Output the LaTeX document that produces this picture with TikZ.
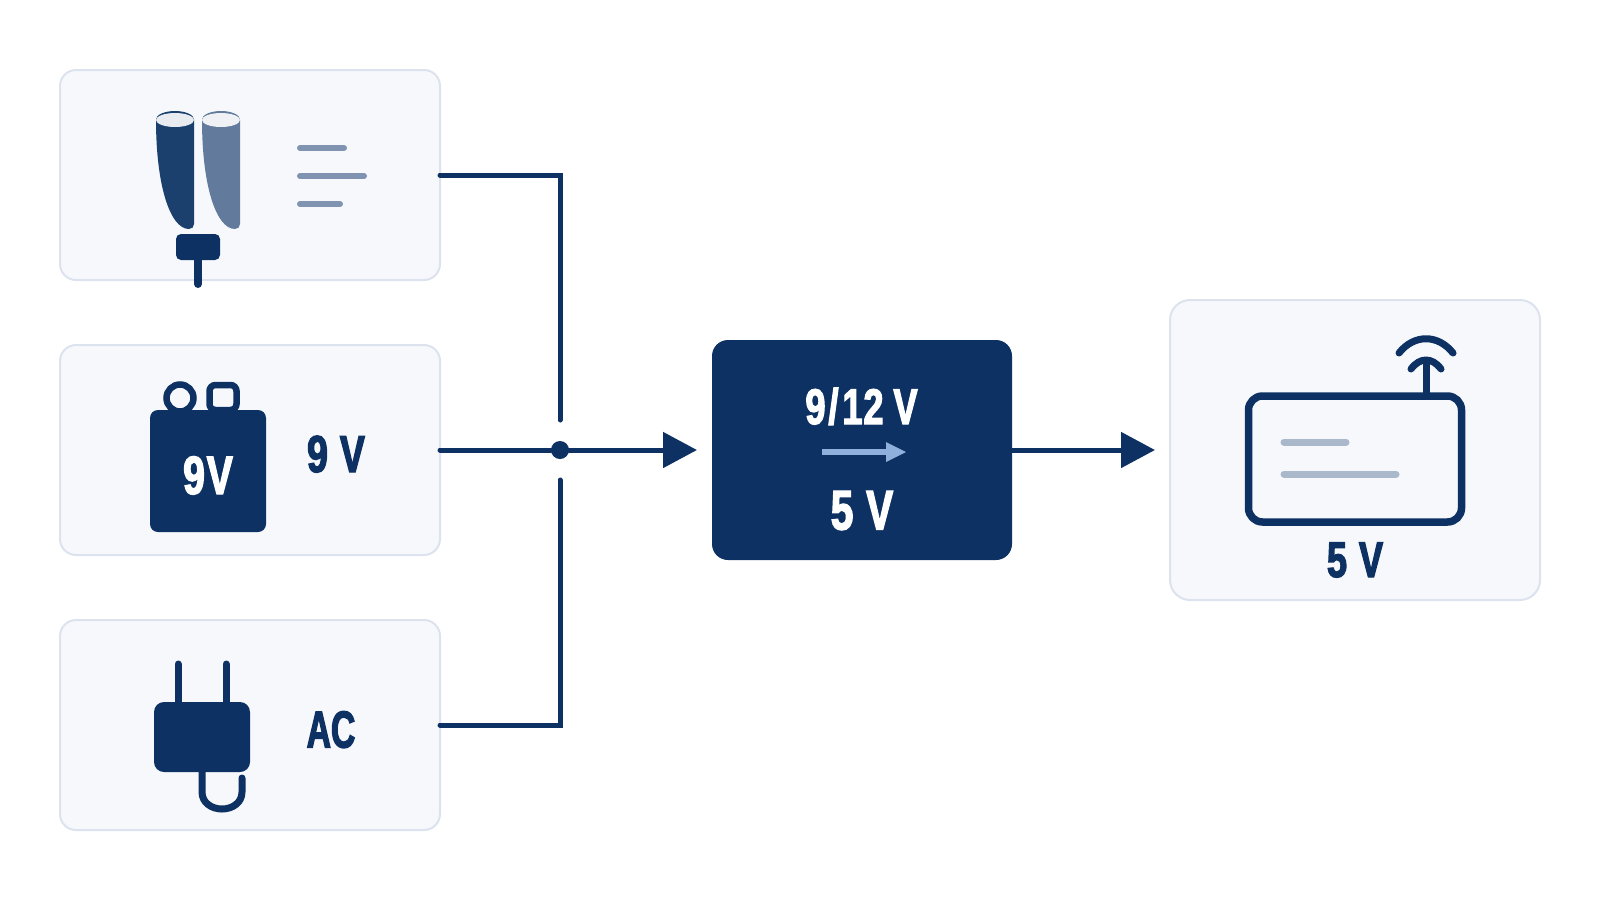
\documentclass[tikz,border=0pt]{standalone}
\usepackage{fontspec}
\usetikzlibrary{arrows.meta}
\newfontfamily\condfont[FakeStretch=0.72,FakeBold=2.5]{Liberation Sans}
\definecolor{navy}{HTML}{0D3163}
\definecolor{cardfill}{HTML}{F6F8FC}
\definecolor{cardline}{HTML}{DCE3EE}
\definecolor{battA}{HTML}{1C406D}
\definecolor{battB}{HTML}{627A9B}
\definecolor{greyA}{HTML}{8094B1}
\definecolor{greyB}{HTML}{AAB8CB}
\definecolor{paleblue}{HTML}{8FB0DC}
\tikzset{
  card/.style={draw=cardline,fill=cardfill,line width=2pt,rounded corners=16pt,inner sep=0pt,outer sep=0pt,minimum width=380pt,minimum height=210pt},
  wire/.style={draw=navy,line width=5pt,line cap=round},
  arrowwire/.style={wire,-{Triangle[length=34pt,width=35pt]},shorten >=15pt},
  solidnavy/.style={fill=navy,draw=none},
  iconline/.style={draw=navy,line cap=round,line join=round},
  label/.style={inner sep=0pt,anchor=base,text=navy,font=\condfont\bfseries},
  whitelabel/.style={label,text=white},
  bar/.style={line width=6pt,line cap=round},
}
\newcommand{\fs}[1]{\fontsize{#1}{#1}\selectfont}
\begin{document}
\begin{tikzpicture}[x=1pt,y=-1pt]
\useasboundingbox (0,0) rectangle (1600,900);
% cards
\node[card] (cardbatt) at (250,175) {};
\node[card] (cardnine) at (250,450) {};
\node[card] (cardac) at (250,725) {};
\node[card,rounded corners=20pt,minimum width=370pt,minimum height=300pt] (carddev) at (1355,450) {};
\node[fill=navy,rounded corners=16pt,inner sep=0pt,outer sep=0pt,minimum width=300pt,minimum height=220pt] (conv) at (862,450) {};
% connectors
\node[circle,fill=navy,inner sep=0pt,outer sep=0pt,minimum size=18pt] (junction) at (560,450) {};
\coordinate (gaptop) at (560,420);
\coordinate (gapbottom) at (560,480);
\draw[wire,line join=miter] (cardbatt.east) -| (gaptop);
\draw[wire,line join=miter] (cardac.east) -| (gapbottom);
\draw[wire] (cardnine.east) -- (junction);
\draw[arrowwire] (junction) -- (conv);
\draw[arrowwire] (conv) -- (carddev);
% batteries
\fill[battA] (156,120) .. controls (156,185) and (170,229) .. (189,229) .. controls (192,229) and (194,227) .. (194,224) -- (194,120) -- cycle;
\fill[battA] (175,119.5) ellipse [x radius=19,y radius=8.5];
\fill[fill=white,fill opacity=.9] (175,120) ellipse [x radius=19,y radius=7];
\fill[battB] (202,120) .. controls (202,185) and (216,229) .. (235,229) .. controls (238,229) and (240,227) .. (240,224) -- (240,120) -- cycle;
\fill[battB] (221,119.5) ellipse [x radius=19,y radius=8.5];
\fill[fill=white,fill opacity=.9] (221,120) ellipse [x radius=19,y radius=7];
\draw[iconline,line width=8pt] (198,255) -- (198,284);
\fill[solidnavy,rounded corners=5pt] (176,234) rectangle (220,260);
\draw[greyA,bar] (300,148) -- (344,148);
\draw[greyA,bar] (300,176) -- (364,176);
\draw[greyA,bar] (300,204) -- (340,204);
% nine volt
\draw[navy,line width=6.5pt] (180,398) circle [radius=13.5];
\draw[navy,line width=6.5pt,rounded corners=6pt] (209.5,385) rectangle (236.5,410);
\fill[solidnavy,rounded corners=8pt] (150,410) rectangle (266,532);
\node[whitelabel] (ninebadge) at (208,494) {\fs{54}9\kern2pt V};
\node[label] (ninelabel) at (336,472) {\fs{52}9\kern12pt V};
% plug
\draw[iconline,line width=7pt] (178,664) -- (178,705);
\draw[iconline,line width=7pt] (226,664) -- (226,705);
\draw[iconline,line width=7pt] (202,770) -- (202,792) .. controls (202,803) and (212,809) .. (222,809) .. controls (232,809) and (242,803) .. (242,792) -- (242,778);
\fill[solidnavy,rounded corners=10pt] (154,702) rectangle (250,772);
\node[label] (aclabel) at (331,747.5) {\fs{52}\scalebox{.9}[1]{AC}};
% converter text
\node[whitelabel] (convin) at (861.5,424) {\fs{50}9\kern3pt/\kern4pt 1\kern1pt 2\kern10pt V};
\draw[draw=paleblue,line width=6pt] (822,452) -- (887,452);
\fill[paleblue] (886,442) -- (906,452) -- (886,462) -- cycle;
\node[whitelabel] (convout) at (862,529.5) {\fs{56}5\kern13pt V};
% device
\draw[iconline,line width=7.5pt,rounded corners=14pt] (1248.5,396) rectangle (1461.5,522);
\draw[iconline,line width=7pt] (1426,396) -- (1426,362);
\draw[iconline,line width=7pt] (1411,369) .. controls (1420,357) and (1432,357) .. (1441,369);
\draw[iconline,line width=7pt] (1399,353) .. controls (1414,334) and (1438,334) .. (1453,353);
\draw[greyB,line width=7pt,line cap=round] (1284,442) -- (1346,442);
\draw[greyB,line width=7pt,line cap=round] (1284,474) -- (1396,474);
\node[label] (devlabel) at (1355,577) {\fs{50}5\kern12pt V};
\end{tikzpicture}
\end{document}
